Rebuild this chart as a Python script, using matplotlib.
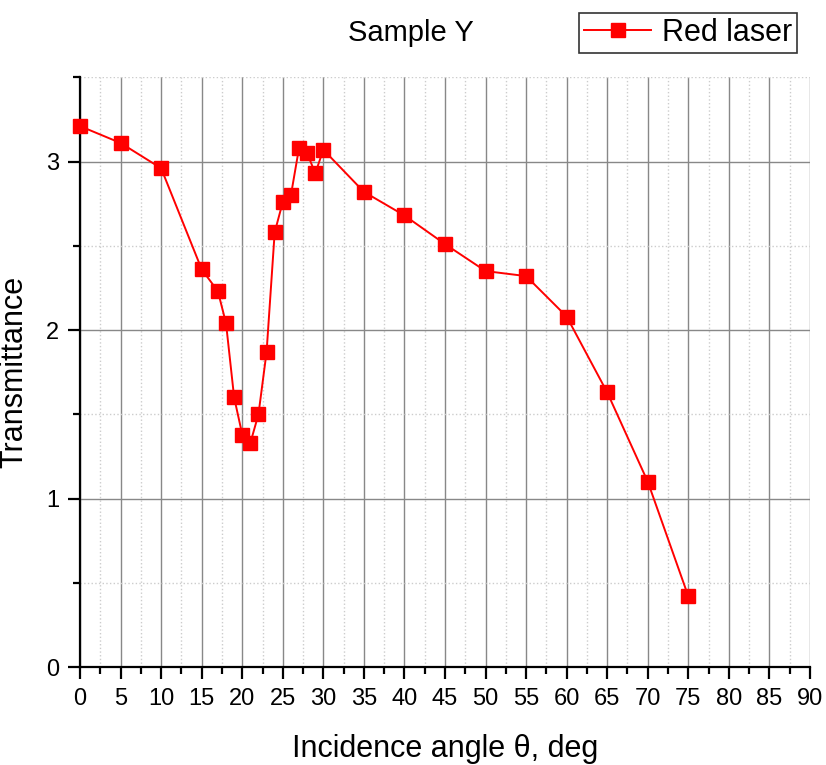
import numpy as np
import matplotlib.pyplot as plt
from matplotlib.ticker import MultipleLocator

plt.rcParams['font.family'] = ['Liberation Sans', 'DejaVu Sans']

# data
angle = [0, 5, 10, 15, 17, 18, 19, 20, 21, 22, 23, 24, 25, 26, 27, 28, 29, 30,
         35, 40, 45, 50, 55, 60, 65, 70, 75]
trans = [3.21, 3.11, 2.96, 2.36, 2.23, 2.04, 1.60, 1.38, 1.33, 1.50, 1.87, 2.58,
         2.76, 2.80, 3.08, 3.05, 2.93, 3.07, 2.82, 2.68, 2.51, 2.35, 2.32, 2.08,
         1.63, 1.10, 0.42]

fig = plt.figure(figsize=(8.26, 7.65), dpi=100)
ax = fig.add_axes([0.0969, 0.128, 0.8837, 0.771])

ax.plot(angle, trans, color='red', marker='s', markersize=9.5, linewidth=1.4,
        label='Red laser', clip_on=False, zorder=3)

ax.set_xlim(0, 90)
ax.set_ylim(0, 3.5)
ax.xaxis.set_major_locator(MultipleLocator(5))
ax.xaxis.set_minor_locator(MultipleLocator(2.5))
ax.yaxis.set_major_locator(MultipleLocator(1))
ax.yaxis.set_minor_locator(MultipleLocator(0.5))

ax.grid(which='major', color='#888888', linewidth=1.0)
ax.grid(which='minor', color='#cccccc', linestyle=':', linewidth=1.0)
ax.set_axisbelow(True)

for s in ['top', 'right']:
    ax.spines[s].set_visible(False)
for s in ['left', 'bottom']:
    ax.spines[s].set_linewidth(1.6)

ax.tick_params(which='major', direction='out', length=8.6, width=1.6,
               labelsize=17, pad=6.5)
ax.tick_params(which='minor', direction='out', length=5, width=1.6)

ax.set_xlabel('Incidence angle θ, deg', fontsize=22, labelpad=17)
ax.set_ylabel('Transmittance', fontsize=22, labelpad=12)
fig.text(0.498, 0.957, 'Sample Y', fontsize=21, ha='center', va='center')

leg = ax.legend(loc='center', bbox_to_anchor=(0.833, 1.075), fontsize=22,
                frameon=True, fancybox=False, edgecolor='black',
                handlelength=2.2, borderpad=0.15, handletextpad=0.35,
                borderaxespad=0)
leg.get_frame().set_linewidth(1.2)

plt.savefig('out.png', dpi=100)
